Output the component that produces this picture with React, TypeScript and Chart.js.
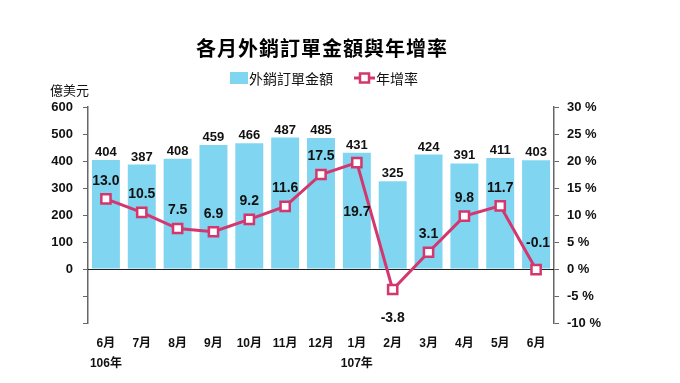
import React, { useEffect, useRef } from "react";
import { Chart, registerables } from "chart.js";

Chart.register(...registerables);

const months = ["6月", "7月", "8月", "9月", "10月", "11月", "12月", "1月", "2月", "3月", "4月", "5月", "6月"];
const yearLabels = ["106年", "", "", "", "", "", "", "107年", "", "", "", "", ""];
const orderValues = [404, 387, 408, 459, 466, 487, 485, 431, 325, 424, 391, 411, 403];
const growthRates = [13.0, 10.5, 7.5, 6.9, 9.2, 11.6, 17.5, 19.7, -3.8, 3.1, 9.8, 11.7, -0.1];
const leftTicks = [0, 100, 200, 300, 400, 500, 600];

const TITLE = "各月外銷訂單金額與年增率";
const BAR_NAME = "外銷訂單金額";
const LINE_NAME = "年增率";
const UNIT = "億美元";

const BAR_COLOR = "#80d5f0";
const LINE_COLOR = "#d4376e";
const NUM_FONT = "'Liberation Sans Narrow', 'Liberation Sans', Arial, sans-serif";
const CJK_FONT = "'Noto Sans CJK TC', 'Noto Sans CJK SC', sans-serif";

// label placement style: dy relative to point (negative = above)
const lineLabelDy = (i: number) => (i === 7 ? 50 : i === 8 ? 29 : i === 12 ? -26 : -18);

const overlayPlugin = {
  id: "overlay",
  beforeDatasetsDraw(chart: any) {
    const { ctx, chartArea } = chart;
    const y0 = chart.scales.y.getPixelForValue(0);
    ctx.save();
    ctx.strokeStyle = "#222";
    ctx.lineWidth = 1;
    ctx.beginPath();
    ctx.moveTo(chartArea.left, Math.round(y0) + 0.5);
    ctx.lineTo(chartArea.right, Math.round(y0) + 0.5);
    ctx.stroke();
    ctx.restore();
  },
  afterDatasetsDraw(chart: any) {
    const { ctx, chartArea } = chart;
    const cx = (chartArea.left + chartArea.right) / 2;
    ctx.save();
    // title
    ctx.fillStyle = "#000";
    ctx.textAlign = "center";
    ctx.textBaseline = "middle";
    ctx.font = `bold 20px ${CJK_FONT}`;
    (ctx as any).letterSpacing = "1px";
    ctx.fillText(TITLE, cx + 1, 48);
    (ctx as any).letterSpacing = "0px";

    // legend
    ctx.font = `14px ${CJK_FONT}`;
    ctx.textAlign = "left";
    ctx.fillStyle = BAR_COLOR;
    ctx.fillRect(230, 72, 18, 12);
    ctx.fillStyle = "#111";
    ctx.fillText(BAR_NAME, 249, 79);
    ctx.strokeStyle = LINE_COLOR;
    ctx.lineWidth = 3;
    ctx.beginPath();
    ctx.moveTo(354, 78);
    ctx.lineTo(375, 78);
    ctx.stroke();
    ctx.fillStyle = "#fff";
    ctx.lineWidth = 2.5;
    ctx.fillRect(360, 73.5, 9, 9);
    ctx.strokeRect(360, 73.5, 9, 9);
    ctx.fillStyle = "#111";
    ctx.fillText(LINE_NAME, 376, 79);

    // unit
    ctx.font = `13px ${CJK_FONT}`;
    ctx.fillText(UNIT, 50, 90);

    // bar labels
    const barMeta = chart.getDatasetMeta(0);
    ctx.textAlign = "center";
    ctx.textBaseline = "alphabetic";
    ctx.font = `bold 13px ${NUM_FONT}`;
    barMeta.data.forEach((el: any, i: number) => {
      ctx.fillText(String(orderValues[i]), el.x, el.y - 4);
    });

    // line labels
    const lineMeta = chart.getDatasetMeta(1);
    ctx.textBaseline = "middle";
    ctx.font = `bold 14px ${NUM_FONT}`;
    lineMeta.data.forEach((el: any, i: number) => {
      ctx.fillText(growthRates[i].toFixed(1), el.x + (i === 12 ? 2 : 0), el.y + lineLabelDy(i));
    });
    ctx.restore();
  },
};

export default function App() {
  const ref = useRef<HTMLCanvasElement>(null);
  useEffect(() => {
    document.body.style.margin = "0";
    const chart = new Chart(ref.current!, {
      type: "bar",
      data: {
        labels: months.map((m, i) => (yearLabels[i] ? [m, yearLabels[i]] : [m, ""])),
        datasets: [
          {
            type: "bar",
            label: BAR_NAME,
            data: orderValues,
            backgroundColor: BAR_COLOR,
            yAxisID: "y",
            barPercentage: 0.78,
            categoryPercentage: 1,
            order: 2,
          },
          {
            type: "line",
            label: LINE_NAME,
            data: growthRates,
            yAxisID: "y1",
            borderColor: LINE_COLOR,
            borderWidth: 3,
            pointStyle: "rect",
            pointRadius: 6.5,
            pointBorderWidth: 2.5,
            pointBackgroundColor: "#fff",
            pointBorderColor: LINE_COLOR,
            tension: 0,
            order: 1,
          } as any,
        ],
      },
      options: {
        responsive: false,
        animation: false,
        layout: { padding: { top: 107, left: 0, right: 0, bottom: 0 } },
        plugins: { legend: { display: false }, title: { display: false }, tooltip: { enabled: false } },
        scales: {
          x: {
            grid: { display: false },
            border: { display: false },
            ticks: {
              color: "#111",
              padding: 2,
              maxRotation: 0,
              autoSkip: false,
              font: { family: `${NUM_FONT}, ${CJK_FONT}`, size: 12, weight: "bold", lineHeight: 1.7 },
            },
            afterFit: (s: any) => {
              s.height = 60;
            },
          },
          y: {
            position: "left",
            min: -200,
            max: 600,
            afterBuildTicks: (s: any) => {
              s.ticks = [-200, -100, ...leftTicks].map((v) => ({ value: v }));
            },
            ticks: {
              color: "#111",
              padding: 10,
              font: { family: NUM_FONT, size: 13, weight: "bold" },
              callback: (v: any) => (v < 0 ? "" : String(v)),
            },
            grid: { drawOnChartArea: false, drawTicks: true, tickLength: 5, color: "#666" },
            border: { display: true, color: "#666", width: 1.5 },
            afterFit: (s: any) => {
              s.width = 88;
            },
          },
          y1: {
            position: "right",
            min: -10,
            max: 30,
            ticks: {
              stepSize: 5,
              color: "#111",
              padding: 8,
              font: { family: NUM_FONT, size: 13, weight: "bold" },
              callback: (v: any) => `${v} %`,
            },
            grid: { drawOnChartArea: false, drawTicks: true, tickLength: 5, color: "#666" },
            border: { display: true, color: "#666", width: 1.5 },
            afterFit: (s: any) => {
              s.width = 126;
            },
          },
        },
      },
      plugins: [overlayPlugin],
    });
    return () => chart.destroy();
  }, []);
  return <canvas ref={ref} width={680} height={383} style={{ display: "block" }} />;
}
